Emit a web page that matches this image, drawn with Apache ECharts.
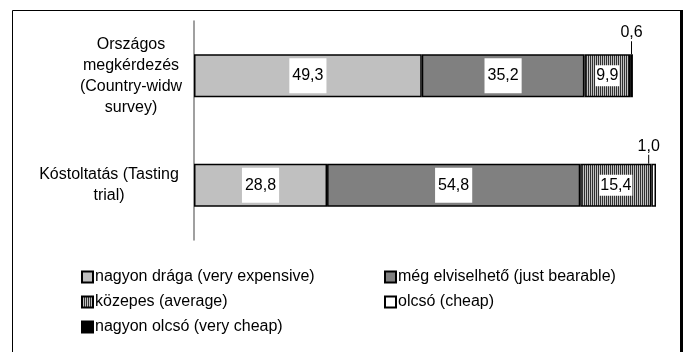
<!DOCTYPE html>
<html>
<head>
<meta charset="utf-8">
<script src="https://cdn.jsdelivr.net/npm/echarts@6/dist/echarts.min.js"></script>
<style>
  html, body { margin: 0; padding: 0; background: #fff; }
  #chart { width: 683px; height: 352px; }
</style>
</head>
<body>
<div id="chart"></div>
<script>
var categories = ['Országos\nmegkérdezés\n(Country-widw\nsurvey)', 'Kóstoltatás (Tasting\ntrial)'];
var seriesNames = ['nagyon drága (very expensive)', 'még elviselhető (just bearable)', 'közepes (average)', 'olcsó (cheap)', 'nagyon olcsó (very cheap)'];
var veryExpensive = [49.3, 28.8];
var justBearable = [35.2, 54.8];
var average = [9.9, 15.4];
var cheap = [null, 1.0];
var veryCheap = [0.6, null];

// striped fill for "közepes"
var stripe = document.createElement('canvas');
stripe.width = 2; stripe.height = 2;
var sctx = stripe.getContext('2d');
sctx.fillStyle = '#c0c0c0'; sctx.fillRect(0, 0, 2, 2);
sctx.fillStyle = '#303030'; sctx.fillRect(0, 0, 1, 2);

var font = 'Liberation Sans, Arial, sans-serif';
function fmt(p) { return p.value == null ? '' : p.value.toFixed(1).replace('.', ','); }
function fmtTop(p) {
  if (p.value == null) return '';
  return '{v|' + fmt(p) + '}\n{' + (p.dataIndex === 0 ? 'l' : 's') + '| }';
}

var fills = ['#c0c0c0', '#808080', {image: stripe, repeat: 'repeat'}, '#ffffff', '#000000'];
var values = [veryExpensive, justBearable, average, cheap, veryCheap];

var series = values.map(function (d, i) {
  var small = i >= 3;
  return {
    name: seriesNames[i],
    type: 'bar',
    stack: 'total',
    barWidth: 43,
    data: d.map(function (v, j) {
      // the 1,0 label sits a little to the left
      return (small && j === 1) ? { value: v, label: { offset: [-5, 0] } } : v;
    }),
    itemStyle: { color: fills[i], borderColor: '#000', borderWidth: 1.5 },
    label: small ? {
      show: true, position: 'top', distance: 0, formatter: fmtTop,
      color: '#000', fontFamily: font,
      rich: {
        v: { fontSize: 16, lineHeight: 17, color: '#000', fontFamily: font },
        l: { width: 1, height: 13, backgroundColor: '#000', fontSize: 1, lineHeight: 13 },
        s: { width: 1, height: 9, backgroundColor: '#000', fontSize: 1, lineHeight: 9 }
      }
    } : {
      show: true, position: 'inside', formatter: fmt,
      color: '#000', fontSize: 16, fontFamily: font,
      backgroundColor: '#fff',
      padding: i === 2 ? [3, 1, 2, 1] : [10, 3, 9, 3]
    }
  };
});

var chart = echarts.init(document.getElementById('chart'));
chart.setOption({
  animation: false,
  backgroundColor: '#fff',
  grid: { left: 194, right: 27, top: 21, bottom: 112, outerBoundsMode: 'none', containLabel: false },
  xAxis: {
    type: 'value', min: 0, max: 100,
    axisLine: { show: false }, axisTick: { show: false },
    axisLabel: { show: false }, splitLine: { show: false }
  },
  yAxis: {
    type: 'category',
    inverse: true,
    data: categories,
    axisLine: { lineStyle: { color: '#808080', width: 1.5 } },
    axisTick: { show: false },
    axisLabel: {
      align: 'right', margin: 12, color: '#000',
      fontSize: 16, lineHeight: 21, fontFamily: font,
      formatter: function (value, idx) {
        var key = idx === 0 ? 'a' : 'b';
        return value.split('\n').map(function (s) { return '{' + key + '|' + s + '}'; }).join('\n');
      },
      rich: {
        a: { width: 102, align: 'center', fontSize: 16, lineHeight: 21, fontFamily: font, color: '#000' },
        b: { width: 146, align: 'center', fontSize: 16, lineHeight: 21, fontFamily: font, color: '#000' }
      }
    }
  },
  legend: [
    {
      data: [seriesNames[0], seriesNames[2], seriesNames[4]],
      orient: 'vertical', left: 76, top: 264, itemGap: 9,
      itemWidth: 11, itemHeight: 11, icon: 'rect',
      textStyle: { color: '#000', fontSize: 16, fontFamily: font, padding: [0, 0, 0, -3] }
    },
    {
      data: [seriesNames[1], seriesNames[3]],
      orient: 'vertical', left: 379, top: 264, itemGap: 9,
      itemWidth: 11, itemHeight: 11, icon: 'rect',
      textStyle: { color: '#000', fontSize: 16, fontFamily: font, padding: [0, 0, 0, -3] }
    }
  ],
  graphic: [
    { type: 'rect', shape: { x: 12.5, y: 10.5, width: 669, height: 360 },
      style: { fill: null, stroke: '#000', lineWidth: 1 }, silent: true },
    { type: 'rect', shape: { x: 680, y: 10, width: 3, height: 342 },
      style: { fill: '#000' }, silent: true }
  ],
  series: series
});
</script>
</body>
</html>
